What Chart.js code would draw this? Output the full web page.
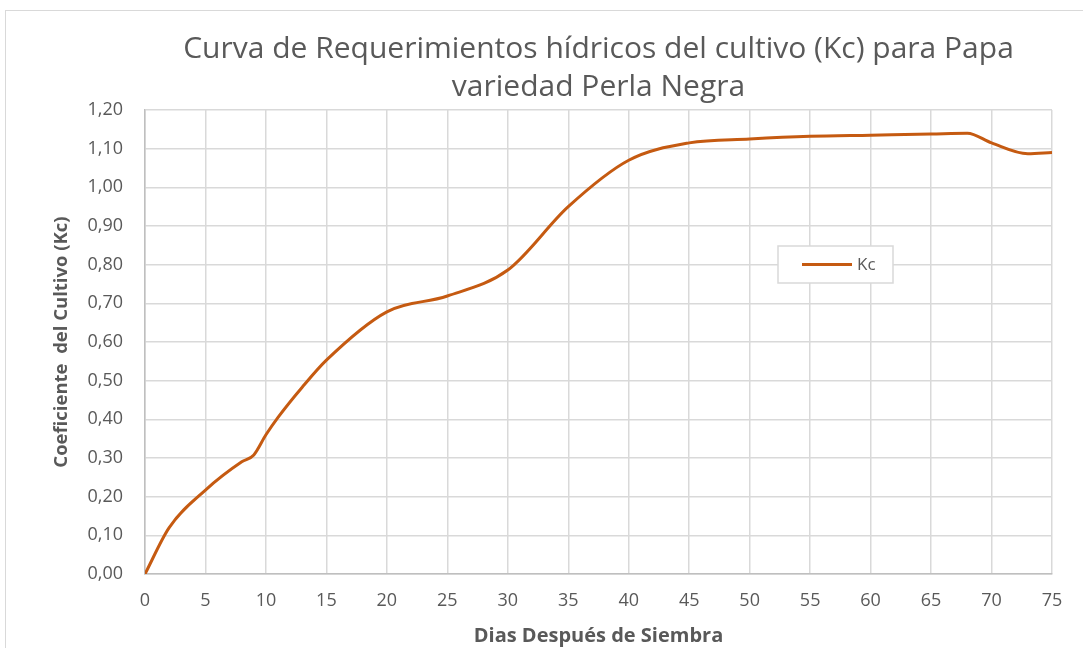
<!DOCTYPE html>
<html lang="es">

<head>
    <meta charset="UTF-8">
    <title>Curva de Requerimientos hídricos - Kc</title>
    <style>
        body {
            margin: 0;
            padding: 0;
            background: #ffffff;
            overflow: hidden;
        }

        .chart-box {
            position: absolute;
            left: 5px;
            top: 10px;
            width: 1100px;
            height: 660px;
            border: 1px solid #d9d9d9;
            background: #ffffff;
        }
    </style>
</head>

<body>
    <div class="chart-box">
        <canvas id="kcChart" width="1077" height="637"></canvas>
    </div>

    <script src="https://cdn.jsdelivr.net/npm/chart.js"></script>
    <script>
        // Dias despues de siembra
        const dias = [0, 2, 5, 8, 9, 10, 11, 13, 15, 20, 25, 30, 35, 40, 45, 50, 55, 60, 65, 68, 70, 73, 75];
        // Coeficiente del cultivo (Kc)
        const kc = [0, 0.12, 0.217, 0.29, 0.308, 0.36, 0.405, 0.483, 0.553, 0.678, 0.719, 0.786, 0.95, 1.07, 1.115, 1.125, 1.132, 1.135, 1.138, 1.14, 1.115, 1.087, 1.09];
        const xTicks = [0, 5, 10, 15, 20, 25, 30, 35, 40, 45, 50, 55, 60, 65, 70, 75];
        const yTicks = [0, 0.1, 0.2, 0.3, 0.4, 0.5, 0.6, 0.7, 0.8, 0.9, 1.0, 1.1, 1.2];

        const gris = '#595959';
        const naranja = '#c55a11';
        const fuente = '"Open Sans", Lato, sans-serif';

        // legend box drawn inside the plot area, like the Excel one
        const cajaLeyenda = {
            id: 'cajaLeyenda',
            afterDatasetsDraw(chart) {
                const { ctx, chartArea } = chart;
                const x = chartArea.left + 633;
                const y = chartArea.top + 136;
                ctx.save();
                ctx.fillStyle = '#ffffff';
                ctx.fillRect(x, y, 115, 37);
                ctx.strokeStyle = '#d9d9d9';
                ctx.lineWidth = 1.5;
                ctx.strokeRect(x, y, 115, 37);
                ctx.strokeStyle = naranja;
                ctx.lineWidth = 3;
                ctx.beginPath();
                ctx.moveTo(x + 24, y + 18.5);
                ctx.lineTo(x + 74, y + 18.5);
                ctx.stroke();
                ctx.fillStyle = gris;
                ctx.font = '17px ' + fuente;
                ctx.textBaseline = 'middle';
                ctx.fillText(chart.data.datasets[0].label, x + 79, y + 19);
                ctx.restore();
            }
        };

        const ctx = document.getElementById('kcChart').getContext('2d');
        const kcChart = new Chart(ctx, {
            type: 'line',
            data: {
                datasets: [{
                    label: 'Kc',
                    data: dias.map((d, i) => ({ x: d, y: kc[i] })),
                    borderColor: naranja,
                    borderWidth: 3,
                    pointRadius: 0,
                    cubicInterpolationMode: 'monotone',
                    fill: false
                }]
            },
            plugins: [cajaLeyenda],
            options: {
                responsive: false,
                animation: false,
                layout: {
                    padding: { left: 0, right: 31, top: 0, bottom: 0 }
                },
                plugins: {
                    legend: { display: false },
                    tooltip: { enabled: false },
                    title: {
                        display: true,
                        fullSize: false,
                        text: ['Curva de Requerimientos hídricos del cultivo (Kc) para Papa', 'variedad Perla Negra'],
                        color: gris,
                        font: { family: fuente, size: 30, weight: 'normal', lineHeight: 1.25 },
                        padding: { top: 20, bottom: 4 }
                    }
                },
                scales: {
                    x: {
                        type: 'linear',
                        min: 0,
                        max: 75,
                        afterBuildTicks(scale) {
                            scale.ticks = xTicks.map(v => ({ value: v }));
                        },
                        afterFit(scale) {
                            scale.height = 74;
                        },
                        grid: { color: '#d9d9d9', lineWidth: 1.5, drawTicks: false },
                        border: { color: '#bfbfbf', width: 1.5 },
                        ticks: {
                            color: gris,
                            padding: 16,
                            maxRotation: 0,
                            font: { family: fuente, size: 18 }
                        },
                        title: {
                            display: true,
                            text: 'Dias Después de Siembra',
                            color: gris,
                            font: { family: fuente, size: 20, weight: 'bold', lineHeight: 1.2 },
                            padding: { top: 3, bottom: 0 }
                        }
                    },
                    y: {
                        min: 0,
                        max: 1.2,
                        afterBuildTicks(scale) {
                            scale.ticks = yTicks.map(v => ({ value: v }));
                        },
                        afterFit(scale) {
                            scale.width = 139;
                        },
                        grid: { color: '#d9d9d9', lineWidth: 1.5, drawTicks: false },
                        border: { color: '#bfbfbf', width: 1.5 },
                        ticks: {
                            color: gris,
                            padding: 22,
                            font: { family: fuente, size: 18 },
                            callback: v => v.toFixed(2).replace('.', ',')
                        },
                        title: {
                            display: true,
                            text: 'Coeficiente  del Cultivo (Kc)',
                            color: gris,
                            font: { family: fuente, size: 18.5, weight: 'bold', lineHeight: 1.2 },
                            padding: { top: 45, bottom: 0 }
                        }
                    }
                }
            }
        });
    </script>
</body>

</html>
